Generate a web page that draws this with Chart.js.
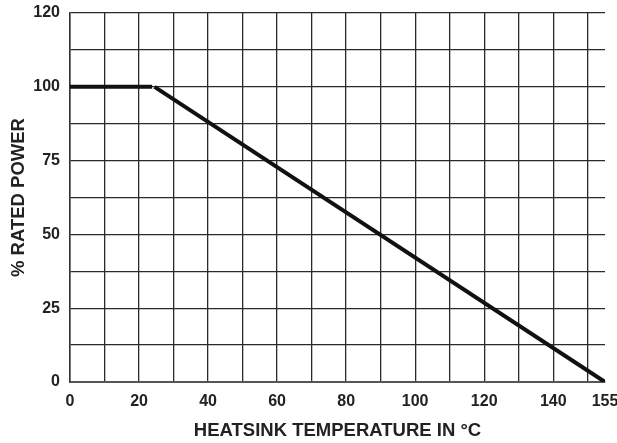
<!DOCTYPE html>
<html>
<head>
<meta charset="utf-8">
<title>Power Derating Curve</title>
<script src="https://cdn.jsdelivr.net/npm/chart.js@4/dist/chart.umd.min.js"></script>
<style>
    html, body { margin: 0; padding: 0; background: #fff; }
    #wrap { width: 617px; height: 443px; position: relative; }
</style>
</head>
<body>
<div id="wrap"><canvas id="derating-chart"></canvas></div>
<script>
// Derating curve data (heatsink temperature in °C vs % rated power)
const flatTemps = [0, 23.8];
const flatPower = [100, 100];
const slopeTemps = [24.5, 155];
const slopePower = [100, 0];

// Axis ticks
const xGridTemps = [0, 10, 20, 30, 40, 50, 60, 70, 80, 90, 100, 110, 120, 130, 140, 150, 155];
const xTickLabels = [0, 20, 40, 60, 80, 100, 120, 140, 155];
// The printed chart uses 12.5% steps up to 100, then two more rows to "120"
const yGridValues = [0, 12.5, 25, 37.5, 50, 62.5, 75, 87.5, 100, 112.5, 125];
const yTickValues = [0, 25, 50, 75, 100, 125];
const yTickLabels = ['0', '25', '50', '75', '100', '120'];

const FONT = '"Liberation Sans", Arial, sans-serif';

function toPoints(xs, ys) {
    return xs.map((x, i) => ({ x: x, y: ys[i] }));
}

function renderDeratingChart() {
    const ctx = document.getElementById('derating-chart');
    if (!ctx) return;

    const lineStyle = {
        borderColor: '#111',
        borderWidth: 4,
        borderCapStyle: 'butt',
        pointRadius: 0,
        showLine: true,
        fill: false,
        tension: 0
    };

    new Chart(ctx, {
        type: 'scatter',
        data: {
            datasets: [
                Object.assign({ label: 'flat', data: toPoints(flatTemps, flatPower) }, lineStyle),
                Object.assign({ label: 'slope', data: toPoints(slopeTemps, slopePower) }, lineStyle)
            ]
        },
        options: {
            responsive: true,
            maintainAspectRatio: false,
            animation: false,
            layout: { padding: { left: 8, right: 0, top: 0, bottom: 1 } },
            plugins: {
                legend: { display: false },
                tooltip: { enabled: false }
            },
            scales: {
                x: {
                    type: 'linear',
                    min: 0,
                    max: 155,
                    afterBuildTicks: axis => {
                        axis.ticks = xGridTemps.map(v => ({ value: v }));
                    },
                    // pin the axis band so the plot sits where the original does
                    afterFit: axis => {
                        axis.height = 60;
                        axis.paddingRight = 12;
                    },
                    ticks: {
                        autoSkip: false,
                        maxRotation: 0,
                        padding: 10,
                        color: '#222',
                        font: { family: FONT, size: 16, weight: 'bold' },
                        callback: v => xTickLabels.includes(v) ? String(v) : ''
                    },
                    grid: {
                        drawTicks: false,
                        lineWidth: 1.3,
                        color: c => (c.tick && c.tick.value === 155) ? 'rgba(0,0,0,0)' : '#2a2a2a'
                    },
                    border: { color: '#555', width: 2 },
                    title: {
                        display: true,
                        text: 'HEATSINK TEMPERATURE IN °C',
                        color: '#222',
                        padding: { top: 9, bottom: 0 },
                        font: { family: FONT, size: 18.5, weight: 'bold' }
                    }
                },
                y: {
                    type: 'linear',
                    min: 0,
                    max: 125,
                    afterBuildTicks: axis => {
                        axis.ticks = yGridValues.map(v => ({ value: v }));
                    },
                    afterFit: axis => {
                        axis.width = 62;
                        axis.paddingTop = 13;
                    },
                    ticks: {
                        autoSkip: false,
                        padding: 10,
                        color: '#222',
                        font: { family: FONT, size: 16, weight: 'bold' },
                        callback: v => {
                            const i = yTickValues.indexOf(v);
                            return i >= 0 ? yTickLabels[i] : '';
                        }
                    },
                    grid: {
                        drawTicks: false,
                        lineWidth: 1.3,
                        color: '#2a2a2a'
                    },
                    border: { color: '#333', width: 1.5 },
                    title: {
                        display: true,
                        text: '% RATED POWER',
                        color: '#222',
                        padding: { top: 0, bottom: 3 },
                        font: { family: FONT, size: 18.5, weight: 'bold' }
                    }
                }
            }
        }
    });
}

document.addEventListener('DOMContentLoaded', function () {
    renderDeratingChart();
});
</script>
</body>
</html>
